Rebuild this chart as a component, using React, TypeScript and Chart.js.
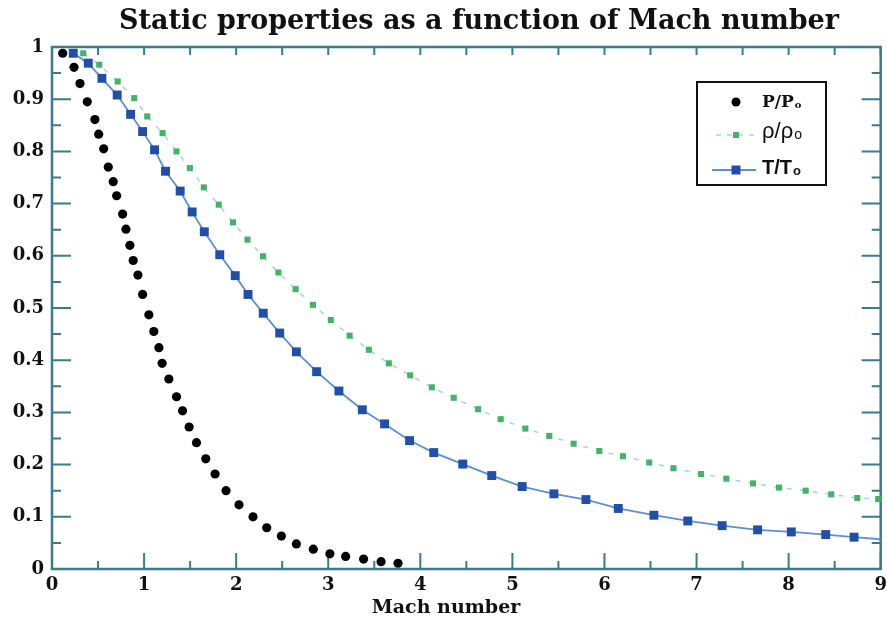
import React, { useEffect, useRef } from "react";
import { Chart, registerables } from "chart.js";

Chart.register(...registerables);

const CHART_TITLE = "Static properties as a function of Mach number";
const X_AXIS_TITLE = "Mach number";

// P/Po (black dots)
const pMach = [0.116, 0.239, 0.304, 0.383, 0.466, 0.507, 0.561, 0.611, 0.665, 0.702, 0.767, 0.803, 0.846, 0.882, 0.933, 0.984, 1.052, 1.106, 1.161, 1.196, 1.269, 1.352, 1.418, 1.489, 1.569, 1.67, 1.771, 1.89, 2.031, 2.183, 2.332, 2.491, 2.654, 2.838, 3.018, 3.189, 3.384, 3.574, 3.758];
const pRatio = [0.988, 0.961, 0.93, 0.895, 0.861, 0.833, 0.805, 0.77, 0.742, 0.715, 0.68, 0.651, 0.62, 0.591, 0.563, 0.526, 0.487, 0.455, 0.424, 0.394, 0.364, 0.33, 0.303, 0.272, 0.242, 0.211, 0.182, 0.15, 0.123, 0.1, 0.079, 0.063, 0.048, 0.038, 0.029, 0.024, 0.019, 0.014, 0.011];

// rho/rho_o (green squares, dashed light line)
const rhoMach = [0.339, 0.513, 0.713, 0.893, 1.034, 1.201, 1.352, 1.497, 1.649, 1.811, 1.966, 2.123, 2.292, 2.459, 2.646, 2.834, 3.028, 3.232, 3.441, 3.658, 3.89, 4.125, 4.363, 4.628, 4.873, 5.141, 5.401, 5.665, 5.944, 6.201, 6.486, 6.749, 7.05, 7.324, 7.614, 7.896, 8.185, 8.463, 8.745, 8.973];
const rhoRatio = [0.988, 0.966, 0.934, 0.902, 0.867, 0.835, 0.8, 0.768, 0.731, 0.698, 0.664, 0.631, 0.599, 0.568, 0.536, 0.506, 0.477, 0.447, 0.42, 0.394, 0.371, 0.348, 0.328, 0.306, 0.287, 0.269, 0.255, 0.24, 0.226, 0.216, 0.204, 0.193, 0.182, 0.173, 0.164, 0.156, 0.15, 0.143, 0.136, 0.134];

// T/To (blue squares, solid line; last entry is the line end at the frame edge)
const tMach = [0.231, 0.394, 0.542, 0.708, 0.854, 0.984, 1.114, 1.233, 1.392, 1.522, 1.654, 1.822, 1.99, 2.129, 2.294, 2.473, 2.654, 2.874, 3.116, 3.37, 3.612, 3.883, 4.146, 4.461, 4.776, 5.106, 5.451, 5.799, 6.15, 6.537, 6.905, 7.278, 7.663, 8.029, 8.403, 8.711, 9.0];
const tRatio = [0.988, 0.969, 0.94, 0.908, 0.871, 0.838, 0.803, 0.762, 0.724, 0.684, 0.646, 0.602, 0.562, 0.526, 0.49, 0.452, 0.416, 0.378, 0.341, 0.305, 0.278, 0.246, 0.223, 0.201, 0.179, 0.158, 0.144, 0.133, 0.116, 0.103, 0.092, 0.083, 0.075, 0.071, 0.066, 0.061, 0.057];

const LEGEND_LABELS = [
  { main: "P/P", sub: "o" },
  { main: "\u03c1/\u03c1", sub: "o" },
  { main: "T/T", sub: "o" },
];

const AXIS_COLOR = "#3b7b8e";
const SERIF = "'DejaVu Serif', serif";
const SANS = "'Liberation Sans', Arial, sans-serif";
const GREEN = "#43b368";
const GREEN_LINE = "#9fd6e6";
const BLUE = "#1f4fa8";
const BLUE_LINE = "#5b8fd8";

const toXY = (xs: number[], ys: number[]) => xs.map((x, i) => ({ x, y: ys[i] }));

const framePlugin = {
  id: "frame",
  beforeDatasetsDraw(chart: any) {
    const { ctx, chartArea: a, scales } = chart;
    const xs = scales.x;
    const ys = scales.y;
    ctx.save();
    ctx.strokeStyle = AXIS_COLOR;
    ctx.lineWidth = 2;
    ctx.beginPath();
    for (let i = 0; i <= 18; i++) {
      const px = xs.getPixelForValue(i * 0.5);
      const major = i % 2 === 0;
      const lb = major ? 16 : 8;
      ctx.moveTo(px, a.bottom);
      ctx.lineTo(px, a.bottom - lb);
      ctx.moveTo(px, a.top);
      ctx.lineTo(px, a.top + 8);
    }
    for (let j = 0; j <= 20; j++) {
      const py = ys.getPixelForValue(j * 0.05);
      const major = j % 2 === 0;
      const l = major ? 19 : 9;
      ctx.moveTo(a.left, py);
      ctx.lineTo(a.left + l, py);
      ctx.moveTo(a.right, py);
      ctx.lineTo(a.right - l, py);
    }
    ctx.stroke();
    ctx.lineWidth = 2.5;
    ctx.strokeRect(a.left, a.top, a.right - a.left, a.bottom - a.top);
    ctx.restore();
  },
  afterDraw(chart: any) {
    const { ctx } = chart;
    ctx.save();
    ctx.fillStyle = "#111";
    ctx.textAlign = "center";
    ctx.textBaseline = "alphabetic";
    // main title
    ctx.font = `bold 27px ${SERIF}`;
    ctx.fillText(CHART_TITLE, 479, 29);
    // x axis title
    ctx.font = `bold 19px ${SERIF}`;
    ctx.fillText(X_AXIS_TITLE, 446, 613);

    // legend
    const bx = 697, by = 82, bw = 129, bh = 103;
    ctx.fillStyle = "#fff";
    ctx.fillRect(bx, by, bw, bh);
    ctx.strokeStyle = "#111";
    ctx.lineWidth = 2;
    ctx.strokeRect(bx, by, bw, bh);

    const mx = 736;
    ctx.fillStyle = "#000";
    ctx.beginPath();
    ctx.arc(mx, 102, 4.5, 0, Math.PI * 2);
    ctx.fill();
    ctx.strokeStyle = GREEN_LINE;
    ctx.lineWidth = 1.5;
    ctx.setLineDash([5, 6]);
    ctx.beginPath();
    ctx.moveTo(716, 135);
    ctx.lineTo(756, 135);
    ctx.stroke();
    ctx.setLineDash([]);
    ctx.fillStyle = GREEN;
    ctx.fillRect(mx - 3, 132, 6, 6);
    ctx.strokeStyle = BLUE_LINE;
    ctx.lineWidth = 1.8;
    ctx.beginPath();
    ctx.moveTo(712, 170);
    ctx.lineTo(756, 170);
    ctx.stroke();
    ctx.fillStyle = BLUE;
    ctx.fillRect(mx - 4.5, 165.5, 9, 9);

    ctx.textAlign = "left";
    ctx.fillStyle = "#111";
    const tx = 762;
    const rows = [
      { font: `bold 17px ${SERIF}`, sub: `bold 10px ${SERIF}`, y: 107 },
      { font: `22px ${SANS}`, sub: `14px ${SANS}`, y: 138 },
      { font: `bold 20px ${SANS}`, sub: `bold 13px ${SANS}`, y: 174 },
    ];
    LEGEND_LABELS.forEach((lab, i) => {
      const r = rows[i];
      ctx.font = r.font;
      ctx.fillText(lab.main, tx, r.y);
      const w = ctx.measureText(lab.main).width;
      ctx.font = r.sub;
      ctx.fillText(lab.sub, tx + w + 1, r.y + 1);
    });
    ctx.restore();
  },
};

export default function App() {
  const ref = useRef<HTMLCanvasElement | null>(null);
  useEffect(() => {
    if (!ref.current) return;
    const lastT = tMach.length - 1;
    const chart = new Chart(ref.current, {
      type: "scatter",
      data: {
        datasets: [
          {
            label: "P/Po",
            data: toXY(pMach, pRatio),
            showLine: false,
            pointStyle: "circle",
            pointRadius: 4.6,
            pointBackgroundColor: "#000",
            pointBorderColor: "#000",
            pointBorderWidth: 0,
            clip: false,
          } as any,
          {
            label: "\u03c1/\u03c1o",
            data: toXY(rhoMach, rhoRatio),
            showLine: true,
            borderColor: GREEN_LINE,
            borderWidth: 1.5,
            borderDash: [5, 8],
            pointStyle: "rect",
            pointRadius: 4.3,
            pointBackgroundColor: GREEN,
            pointBorderColor: GREEN,
            pointBorderWidth: 0,
            clip: false,
          } as any,
          {
            label: "T/To",
            data: toXY(tMach, tRatio),
            showLine: true,
            borderColor: BLUE_LINE,
            borderWidth: 1.8,
            pointStyle: "rect",
            pointRadius: (c: any) => (c.dataIndex === lastT ? 0 : 6.3),
            pointBackgroundColor: BLUE,
            pointBorderColor: BLUE,
            pointBorderWidth: 0,
            clip: false,
          } as any,
        ],
      },
      options: {
        responsive: false,
        animation: false,
        events: [],
        layout: { padding: { top: 47, right: 5, left: 0, bottom: 0 } },
        plugins: {
          legend: { display: false },
          title: { display: false },
          tooltip: { enabled: false },
        },
        scales: {
          x: {
            type: "linear",
            min: 0,
            max: 9,
            afterFit: (s: any) => {
              s.height = 50;
              s.paddingLeft = 0;
              s.paddingRight = 0;
            },
            ticks: {
              stepSize: 1,
              padding: 6,
              color: "#111",
              font: { family: SERIF, size: 18, weight: "bold" },
            },
            grid: { display: false, drawTicks: false },
            border: { display: false },
          },
          y: {
            type: "linear",
            min: 0,
            max: 1,
            afterFit: (s: any) => {
              s.width = 52;
              s.paddingTop = 0;
              s.paddingBottom = 0;
            },
            ticks: {
              stepSize: 0.1,
              padding: 8,
              color: "#111",
              font: { family: SERIF, size: 18, weight: "bold" },
              callback: (v: any) => String(Math.round(Number(v) * 10) / 10),
            },
            grid: { display: false, drawTicks: false },
            border: { display: false },
          },
        },
      },
      plugins: [framePlugin],
    });
    return () => chart.destroy();
  }, []);
  return (
    <div style={{ position: "absolute", left: 0, top: 0, width: 887, height: 619, background: "#fff" }}>
      <canvas ref={ref} width={887} height={619} />
    </div>
  );
}
